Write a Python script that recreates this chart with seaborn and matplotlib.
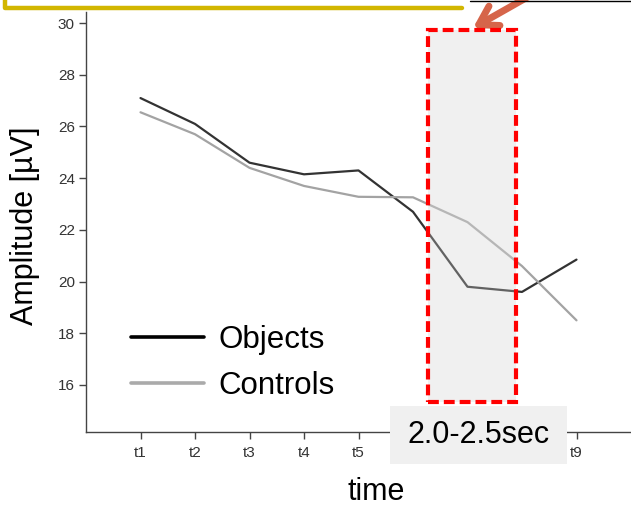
import matplotlib
matplotlib.use("Agg")
import matplotlib.pyplot as plt
import matplotlib.patches as patches
import pandas as pd
import seaborn as sns

# values
time_points = ["t1", "t2", "t3", "t4", "t5", "t6", "t7", "t8", "t9"]
objects = [27.1, 26.1, 24.6, 24.15, 24.3, 22.7, 19.8, 19.6, 20.85]
controls = [26.55, 25.7, 24.4, 23.7, 23.28, 23.26, 22.3, 20.6, 18.5]
groups = ["Objects", "Controls"]
window_label = "2.0-2.5sec"

W, H = 631, 507

df = pd.DataFrame({
    "time": time_points * 2,
    "Amplitude": objects + controls,
    "Group": [groups[0]] * len(time_points) + [groups[1]] * len(time_points),
})

sns.set_style("white")
plt.rcParams["font.family"] = ["Liberation Sans", "DejaVu Sans"]
plt.rcParams["text.color"] = "black"
plt.rcParams["axes.labelcolor"] = "black"

fig = plt.figure(figsize=(W / 100, H / 100), dpi=100)
ax = fig.add_axes([86 / W, (H - 432) / H, 1 - 86 / W, 420 / H])

sns.lineplot(
    data=df, x="time", y="Amplitude", hue="Group",
    palette={"Objects": "#333333", "Controls": "#a3a3a3"},
    linewidth=1.6, ax=ax, legend=False, sort=False,
)

ax.set_xlim(-1, 9)
ax.set_ylim(14.18, 30.43)
ax.set_yticks([16, 18, 20, 22, 24, 26, 28, 30])
ax.set_xticks(range(len(time_points)))
ax.set_xticklabels(time_points)
sns.despine(ax=ax)
for s in ["left", "bottom"]:
    ax.spines[s].set_color("#444444")
    ax.spines[s].set_linewidth(1.0)
ax.tick_params(axis="both", direction="out", length=5, width=1.0,
               color="#444444", labelsize=11, labelcolor="#333333", pad=3)
ax.tick_params(axis="x", bottom=True, pad=5)
ax.tick_params(axis="y", left=True)

ax.set_xlabel("time", fontsize=22)
ax.xaxis.set_label_coords(0.532, -0.143)
ax.xaxis.label.set_va("center")
ax.set_ylabel("Amplitude [\u00b5V]", fontsize=22)
ax.yaxis.set_label_coords(-0.112, 0.49)
ax.yaxis.label.set_va("center")

# highlighted window (gray fill + red dashed outline)
x0, x1 = 5.28, 6.89
y0, y1 = 15.34, 29.73
ax.add_patch(patches.Rectangle((x0, y0), x1 - x0, y1 - y0, facecolor="#f0f0f0",
                               edgecolor="none", zorder=0))
ax.add_patch(patches.Rectangle((x0, y0), x1 - x0, y1 - y0, facecolor="#f0f0f0",
                               alpha=0.25, edgecolor="none", zorder=3))
ax.add_patch(patches.Rectangle((x0, y0), x1 - x0, y1 - y0, facecolor="none",
                               edgecolor="#ff0000", linewidth=3,
                               linestyle=(0, (2.6, 1.2)), zorder=4))

# legend
handles = [plt.Line2D([], [], color="black", lw=2.6),
           plt.Line2D([], [], color="#aaaaaa", lw=2.6)]
ax.legend(handles, groups, loc="upper left", bbox_to_anchor=(131 / W, (H - 325) / H),
          bbox_transform=fig.transFigure, frameon=False, fontsize=22.5,
          handlelength=2.35, handletextpad=0.45, labelspacing=0.5,
          borderaxespad=0, borderpad=0)

# label box over the x axis
fig.patches.append(patches.Rectangle((390 / W, (H - 464) / H), 177 / W, 58 / H,
                                     transform=fig.transFigure, facecolor="#f0f0f0",
                                     edgecolor="none", zorder=5))
fig.text(479 / W, (H - 435) / H, window_label, fontsize=22, ha="center",
         va="center", zorder=6)

# yellow frame and thin line at top
fig.add_artist(plt.Line2D([5 / W, 5 / W, 462 / W], [1.02, (H - 8) / H, (H - 8) / H],
                          transform=fig.transFigure, color="#d2b600", lw=3.2))
fig.add_artist(plt.Line2D([470 / W, 1.0], [(H - 1) / H, (H - 1) / H],
                          transform=fig.transFigure, color="black", lw=1.0))

# orange arrow
ax.annotate("", xy=(473, H - 28), xycoords="figure pixels",
            xytext=(540, H + 10), textcoords="figure pixels",
            arrowprops=dict(arrowstyle="->,head_length=1.3,head_width=0.8",
                            color="#d6654a", lw=5, shrinkA=0, shrinkB=0),
            annotation_clip=False)

fig.savefig("out.png", dpi=100)
